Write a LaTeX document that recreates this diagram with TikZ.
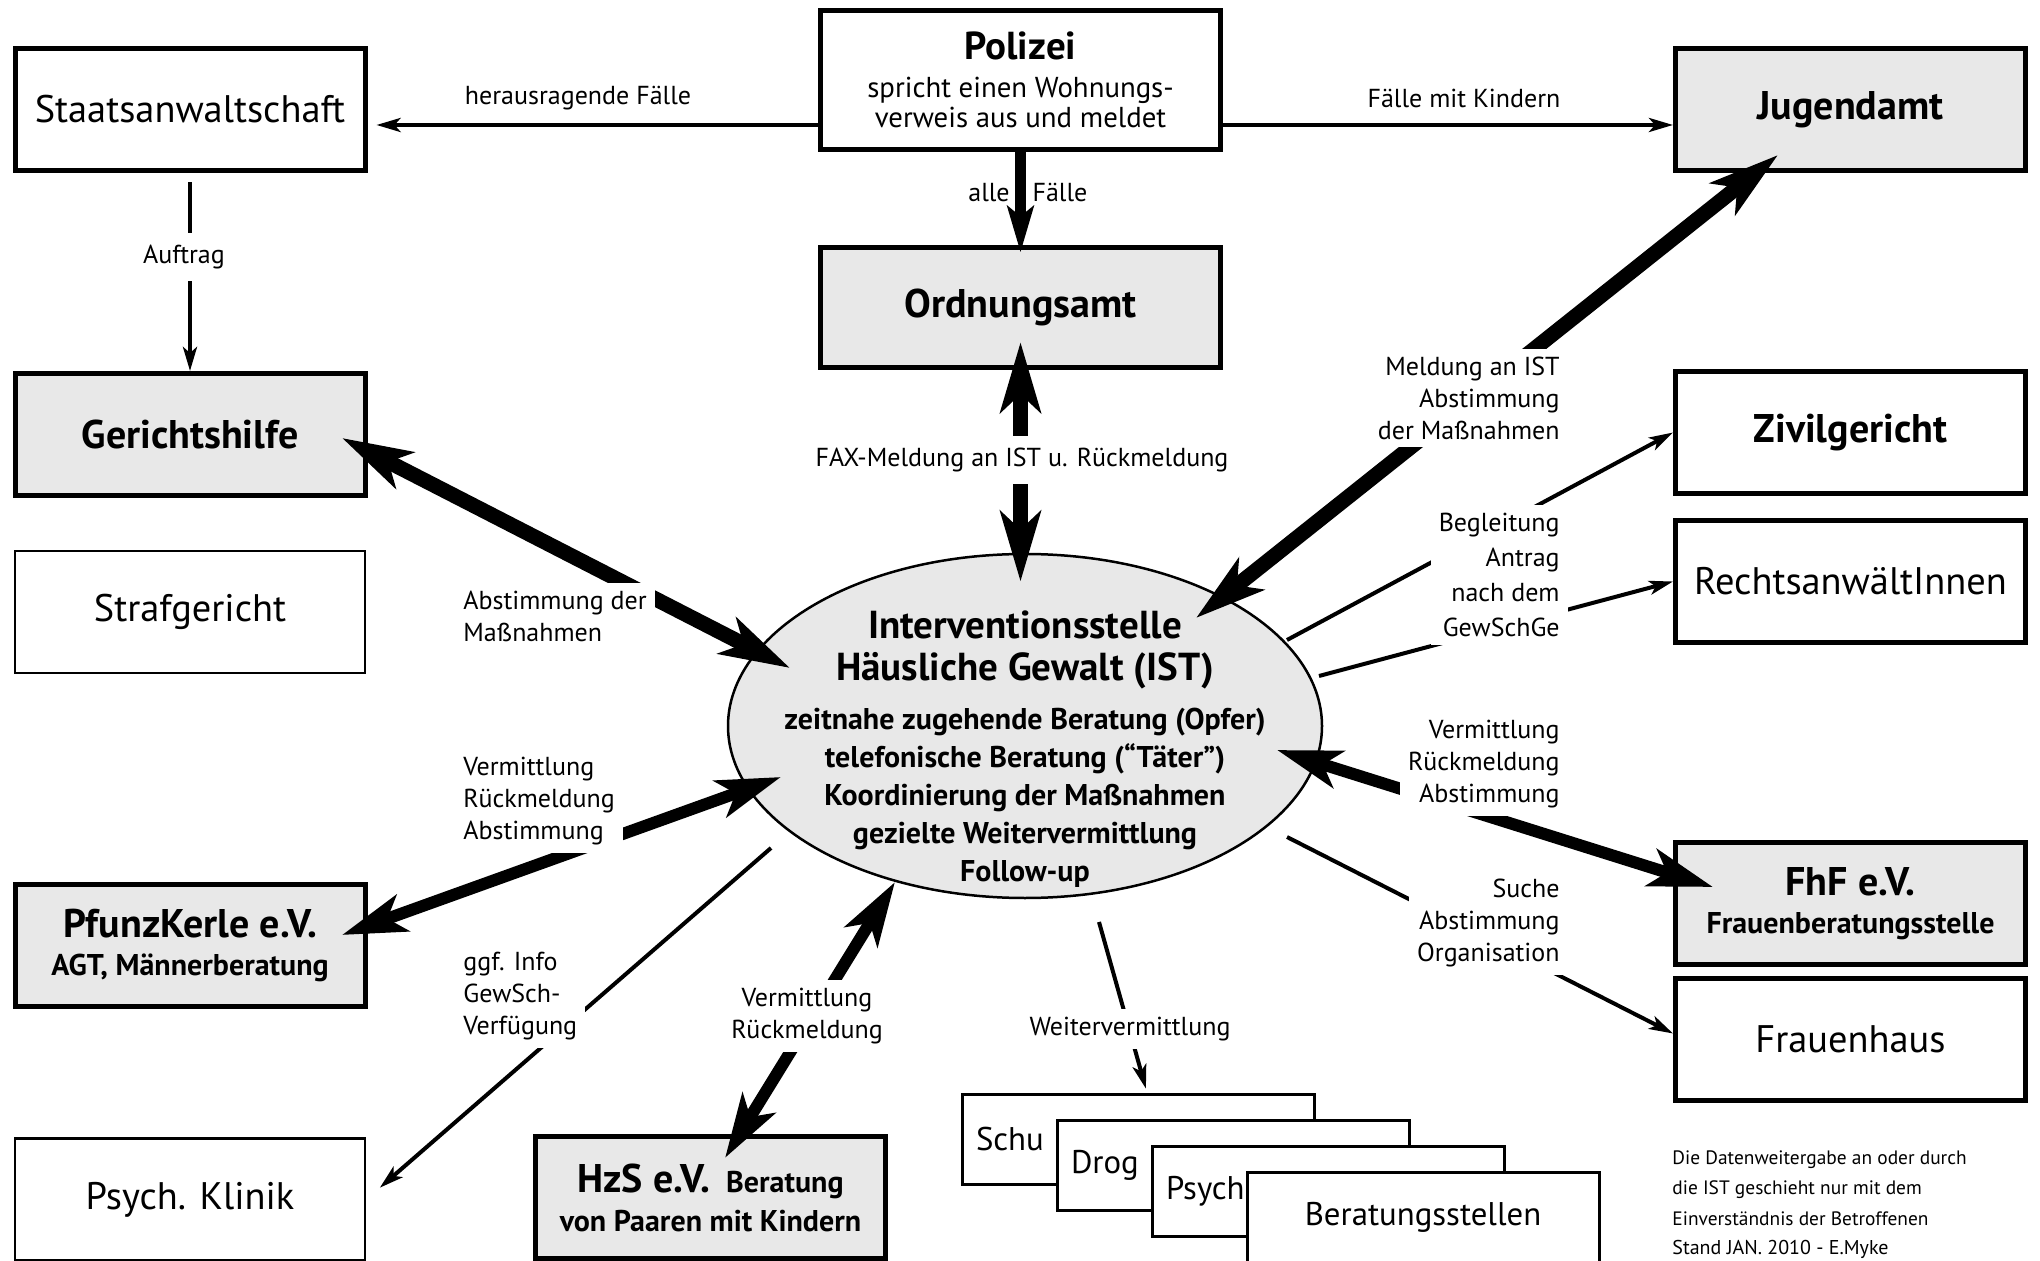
\documentclass[tikz,border=0pt]{standalone}
\usepackage{fontspec}
\setmainfont{PT Sans}
\usetikzlibrary{arrows.meta,shapes.geometric,calc}
\definecolor{graa}{RGB}{232,232,232}
\tikzset{
  boks/.style={
    rectangle,
    draw=black, line width=2.5pt,
    minimum width=175pt,
    minimum height=61pt,
    inner sep=0pt,
    align=center,
    font=\fontsize{19.2}{23}\selectfont},
  graaboks/.style={boks, fill=graa, font=\fontsize{20}{23}\selectfont\bfseries},
  tyndboks/.style={boks, line width=1.25pt},
  stak/.style={
    rectangle,
    draw=black, line width=1.5pt, fill=white,
    minimum width=176pt,
    minimum height=45pt,
    inner sep=0pt,
    font=\fontsize{16.4}{20}\selectfont},
  stakv/.style={stak, text width=162pt, inner xsep=7pt, align=left},
  etiket/.style={fill=white, inner sep=4pt, font=\fontsize{13}{16}\selectfont},
  tykpil/.style={line width=7.5pt,
    {Stealth[length=35pt,width=20pt,inset=9pt]}-{Stealth[length=35pt,width=20pt,inset=9pt]}},
  mellempil/.style={line width=6pt,
    {Stealth[length=32pt,width=19pt,inset=8pt]}-{Stealth[length=32pt,width=19pt,inset=8pt]}},
  fallpil/.style={line width=5.5pt, -{Stealth[length=23pt,width=13pt,inset=5pt]}},
  tyndpil/.style={line width=2pt, -{Stealth[length=12pt,width=7pt,inset=3pt]}},
}
\newcommand{\undertekst}{\fontsize{15}{18}\selectfont}

\begin{document}
\begin{tikzpicture}[x=0.5pt,y=-0.5pt]
  \useasboundingbox (0,0) rectangle (2040,1261);

  \node[boks] (staats) at (190,109.5) {Staatsanwaltschaft};
  \node[boks, minimum width=200pt, minimum height=69.5pt, font=\fontsize{14.4}{15}\selectfont]
    (polizei) at (1020.5,80)
    {\fontsize{19.5}{22}\selectfont\bfseries Polizei\\[3.8pt]
     spricht einen Wohnungs-\\verweis aus und meldet};
  \node[graaboks] (jugend) at (1850.5,109.5) {Jugendamt};
  \node[graaboks, minimum width=200pt, minimum height=60pt] (ordnung) at (1020.5,307.5) {Ordnungsamt};
  \node[graaboks] (gericht) at (190,434.5) {Gerichtshilfe};
  \node[boks, font=\fontsize{20}{23}\selectfont\bfseries] (zivil) at (1850.5,432.5) {Zivilgericht};
  \node[tyndboks] (straf) at (190,612) {Strafgericht};
  \node[boks] (rechts) at (1850.5,581.5) {RechtsanwältInnen};
  \node[graaboks] (pfunz) at (190,945)
    {PfunzKerle e.V.\\[-4pt]\undertekst AGT, Männerberatung};
  \node[graaboks] (fhf) at (1850.5,903.5)
    {FhF e.V.\\[-4pt]\undertekst Frauenberatungsstelle};
  \node[boks] (frauenhaus) at (1850.5,1039.5) {Frauenhaus};
  \node[tyndboks] (psych) at (190,1199.5) {Psych. Klinik};
  \node[graaboks] (hzs) at (710.5,1197.5)
    {HzS e.V.\hspace{8pt}{\undertekst Beratung}\\[-3.5pt]
     \undertekst von Paaren mit Kindern};

  \node[stakv] (schu) at (1138,1139) {Schu};
  \node[stakv] (drog) at (1233,1165) {Drog};
  \node[stakv] (psy) at (1328,1191) {Psych};
  \node[stak] (berat) at (1423,1217) {Beratungsstellen};

  \node[ellipse, draw=black, line width=1.25pt, fill=graa, minimum width=297pt,
    minimum height=172pt, inner sep=0pt] (ist) at (1025,726) {};
  \node[align=center, font=\fontsize{15}{19}\selectfont\bfseries] (isttekst) at (1025,749)
    {\fontsize{19.5}{20}\selectfont Interventionsstelle\\[2pt]
     \fontsize{19.5}{20}\selectfont Häusliche Gewalt (IST)\\[5.4pt]
     zeitnahe zugehende Beratung (Opfer)\\
     telefonische Beratung (“Täter”)\\Koordinierung der Maßnahmen\\
     gezielte Weitervermittlung\\Follow-up};

  \draw[tyndpil, shorten >=4.5pt] ($(polizei.west)+(0,45)$) -- ($(polizei.west -| staats.east)+(0,45)$);
  \draw[tyndpil] ($(polizei.east)+(0,45)$) -- ($(polizei.east -| jugend.west)+(0,45)$);
  \draw[tyndpil, shorten <=4.75pt] (staats) -- (gericht);
  \draw[fallpil, shorten >=-3.75pt] (polizei) -- (ordnung);
  \draw[tykpil, shorten <=-14pt, shorten >=-14.5pt] (ordnung.south) -- (ordnung.south |- ist.north);
  \draw[tykpil] ($(gericht)+(152,3.5)$) -- ($(ist)+(-235,-58)$);
  \draw[tykpil] ($(jugend)+(-72.5,45.5)$) -- ($(ist)+(171,-108)$);
  \draw[mellempil] ($(pfunz)+(152,-10)$) -- ($(ist)+(-244,51)$);
  \draw[mellempil] ($(fhf)+(-137.5,-16.5)$) -- ($(ist)+(252,24)$);
  \draw[mellempil] ($(hzs)+(14.5,-39.5)$) -- ($(ist)+(-130,156)$);
  \draw[tyndpil] ($(ist)+(262,-86)$) -- (zivil.west);
  \draw[tyndpil] ($(ist)+(294,-50)$) -- (rechts.west);
  \draw[tyndpil] ($(ist)+(262,111)$) -- ([yshift=3pt]frauenhaus.west);
  \draw[tyndpil, shorten >=9pt] ($(ist)+(-254,122)$) -- (psych.east);
  \draw[tyndpil, shorten >=2pt] ($(ist)+(74,196)$) -- ([xshift=4.5pt]schu.north);

  \node[etiket] (herausragend) at (578,98) {herausragende Fälle};
  \node[etiket] (kindern) at (1464,98) {Fälle mit Kindern};
  \node[font=\fontsize{13}{16}\selectfont] (alle) at (989,193) {alle};
  \node[font=\fontsize{13}{16}\selectfont] (faelle) at (1060,193) {Fälle};
  \node[etiket, inner ysep=6pt] (auftrag) at (184,257) {Auftrag};
  \node[etiket, inner ysep=6pt] (fax) at (1022,460) {FAX-Meldung an IST u. Rückmeldung};
  \node[etiket, align=left, anchor=west] (abst) at (455,616) {Abstimmung der\\Maßnahmen};
  \node[etiket, align=left, anchor=west] (vermL) at (455,801) {Vermittlung\\Rückmeldung\\Abstimmung};
  \node[etiket, align=left, anchor=west] (ggf) at (455,996) {ggf. Info\\GewSch-\\Verfügung};
  \node[etiket, align=center] (vermH) at (807,1016) {Vermittlung\\Rückmeldung};
  \node[etiket] (weiter) at (1130,1029) {Weitervermittlung};
  \node[etiket, align=right, anchor=east] (meldung) at (1568,398) {Meldung an IST\\Abstimmung\\der Maßnahmen};
  \node[etiket, align=right, anchor=east, font=\fontsize{13}{17.5}\selectfont] (begleit) at (1568,575)
    {Begleitung\\Antrag\\nach dem\\GewSchGe};
  \node[etiket, align=right, anchor=east] (vermR) at (1568,764) {Vermittlung\\Rückmeldung\\Abstimmung};
  \node[etiket, align=right, anchor=east] (suche) at (1568,923) {Suche\\Abstimmung\\Organisation};

  \node[anchor=north west, inner sep=0pt, align=left, font=\fontsize{9.7}{15.3}\selectfont] (hinweis)
    at (1672,1150) {Die Datenweitergabe an oder durch\\die IST geschieht nur mit dem\\Einverständnis der Betroffenen};
  \node[anchor=north west, inner sep=0pt, font=\fontsize{10}{12}\selectfont] (stand)
    at (1672,1240) {Stand JAN. 2010 - E.Myke};
\end{tikzpicture}
\end{document}
